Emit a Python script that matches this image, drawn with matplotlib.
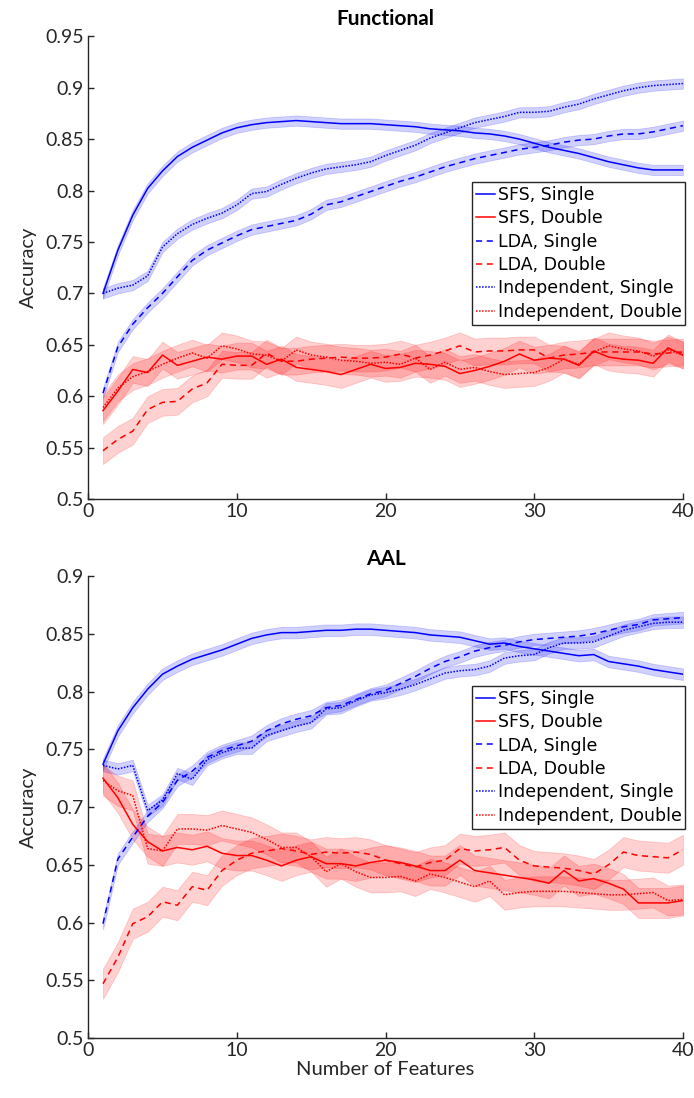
import numpy as np
import matplotlib
matplotlib.use("Agg")
import matplotlib.pyplot as plt

features = np.arange(1, 41)

# Functional parcellation: mean accuracy per number of features
func_sfs_single = [0.700, 0.742, 0.776, 0.802, 0.819, 0.833, 0.842, 0.849, 0.856, 0.861,
                   0.864, 0.866, 0.867, 0.868, 0.867, 0.866, 0.865, 0.865, 0.865, 0.864,
                   0.863, 0.862, 0.860, 0.859, 0.858, 0.856, 0.855, 0.853, 0.850, 0.846,
                   0.842, 0.839, 0.836, 0.832, 0.828, 0.825, 0.822, 0.820, 0.820, 0.820]
func_sfs_double = [0.586, 0.605, 0.626, 0.623, 0.640, 0.630, 0.634, 0.638, 0.636, 0.639,
                   0.639, 0.631, 0.636, 0.628, 0.626, 0.624, 0.621, 0.626, 0.631, 0.627,
                   0.628, 0.632, 0.631, 0.629, 0.622, 0.625, 0.629, 0.634, 0.641, 0.635,
                   0.637, 0.636, 0.630, 0.644, 0.638, 0.636, 0.635, 0.632, 0.647, 0.640]
func_lda_single = [0.603, 0.648, 0.670, 0.686, 0.700, 0.716, 0.732, 0.742, 0.749, 0.756,
                   0.762, 0.765, 0.768, 0.771, 0.777, 0.786, 0.789, 0.794, 0.799, 0.804,
                   0.809, 0.813, 0.818, 0.823, 0.827, 0.831, 0.834, 0.837, 0.840, 0.842,
                   0.844, 0.847, 0.849, 0.850, 0.853, 0.855, 0.855, 0.857, 0.860, 0.863]
func_lda_double = [0.547, 0.558, 0.566, 0.587, 0.594, 0.595, 0.607, 0.613, 0.631, 0.630,
                   0.630, 0.642, 0.634, 0.634, 0.636, 0.637, 0.638, 0.637, 0.637, 0.638,
                   0.641, 0.637, 0.640, 0.644, 0.649, 0.643, 0.644, 0.644, 0.645, 0.645,
                   0.637, 0.640, 0.641, 0.643, 0.643, 0.643, 0.643, 0.641, 0.642, 0.643]
func_ind_single = [0.700, 0.705, 0.708, 0.717, 0.745, 0.758, 0.767, 0.773, 0.778, 0.786,
                   0.797, 0.799, 0.806, 0.812, 0.817, 0.821, 0.823, 0.825, 0.828, 0.834,
                   0.839, 0.844, 0.851, 0.856, 0.861, 0.866, 0.869, 0.872, 0.876, 0.876,
                   0.877, 0.881, 0.884, 0.889, 0.893, 0.897, 0.900, 0.902, 0.903, 0.904]
func_ind_double = [0.589, 0.608, 0.619, 0.624, 0.631, 0.637, 0.642, 0.637, 0.649, 0.646,
                   0.641, 0.640, 0.634, 0.645, 0.640, 0.638, 0.635, 0.634, 0.632, 0.633,
                   0.631, 0.637, 0.626, 0.633, 0.626, 0.628, 0.624, 0.621, 0.622, 0.623,
                   0.628, 0.636, 0.631, 0.643, 0.649, 0.646, 0.644, 0.639, 0.645, 0.640]

# AAL atlas
aal_sfs_single = [0.737, 0.766, 0.786, 0.802, 0.815, 0.822, 0.828, 0.832, 0.836, 0.841,
                  0.846, 0.849, 0.851, 0.851, 0.852, 0.853, 0.853, 0.854, 0.854, 0.853,
                  0.852, 0.851, 0.849, 0.848, 0.847, 0.844, 0.841, 0.842, 0.839, 0.837,
                  0.835, 0.833, 0.831, 0.832, 0.826, 0.824, 0.822, 0.819, 0.817, 0.815]
aal_sfs_double = [0.725, 0.708, 0.685, 0.670, 0.662, 0.665, 0.663, 0.666, 0.660, 0.658,
                  0.658, 0.654, 0.649, 0.654, 0.657, 0.651, 0.651, 0.649, 0.652, 0.654,
                  0.652, 0.649, 0.645, 0.645, 0.654, 0.645, 0.643, 0.641, 0.639, 0.637,
                  0.634, 0.645, 0.636, 0.638, 0.634, 0.629, 0.617, 0.617, 0.617, 0.619]
aal_lda_single = [0.599, 0.655, 0.674, 0.692, 0.704, 0.723, 0.731, 0.743, 0.749, 0.753,
                  0.757, 0.766, 0.772, 0.776, 0.779, 0.786, 0.788, 0.793, 0.798, 0.801,
                  0.807, 0.813, 0.820, 0.826, 0.830, 0.835, 0.838, 0.840, 0.843, 0.845,
                  0.846, 0.847, 0.848, 0.850, 0.853, 0.856, 0.858, 0.862, 0.863, 0.864]
aal_lda_double = [0.547, 0.570, 0.599, 0.605, 0.618, 0.615, 0.631, 0.628, 0.645, 0.654,
                  0.660, 0.662, 0.664, 0.662, 0.659, 0.661, 0.660, 0.661, 0.659, 0.654,
                  0.651, 0.648, 0.652, 0.654, 0.664, 0.662, 0.663, 0.665, 0.654, 0.649,
                  0.648, 0.647, 0.645, 0.642, 0.650, 0.661, 0.658, 0.657, 0.656, 0.663]
aal_ind_single = [0.736, 0.733, 0.736, 0.697, 0.706, 0.729, 0.724, 0.741, 0.747, 0.751,
                  0.751, 0.762, 0.766, 0.770, 0.773, 0.785, 0.786, 0.792, 0.797, 0.799,
                  0.802, 0.806, 0.811, 0.816, 0.818, 0.819, 0.822, 0.829, 0.831, 0.832,
                  0.838, 0.842, 0.842, 0.843, 0.848, 0.853, 0.856, 0.859, 0.860, 0.860]
aal_ind_double = [0.723, 0.714, 0.710, 0.664, 0.662, 0.681, 0.681, 0.680, 0.684, 0.681,
                  0.678, 0.672, 0.665, 0.665, 0.657, 0.644, 0.651, 0.644, 0.639, 0.639,
                  0.640, 0.636, 0.642, 0.639, 0.635, 0.631, 0.636, 0.624, 0.626, 0.627,
                  0.627, 0.627, 0.626, 0.625, 0.624, 0.624, 0.625, 0.626, 0.619, 0.620]

# half-width of the shaded error band (SEM) for each method
sem_single = 0.005
sem_double = 0.013

labels = ["SFS, Single", "SFS, Double", "LDA, Single", "LDA, Double",
          "Independent, Single", "Independent, Double"]

BLUE = (0, 0, 1)
RED = (1, 0, 0)
styles = [(BLUE, "-", sem_single), (RED, "-", sem_double),
          (BLUE, (0, (4, 3)), sem_single), (RED, (0, (4, 3)), sem_double),
          (BLUE, (0, (1, 1)), sem_single), (RED, (0, (1, 1)), sem_double)]

AX_FONT = ["Lato", "DejaVu Sans"]
plt.rcParams["font.family"] = ["DejaVu Sans"]

fig = plt.figure(figsize=(6.94, 10.98), dpi=100)
ax_top = fig.add_axes([0.127, 0.5455, 0.857, 0.4215])
ax_bot = fig.add_axes([0.127, 0.0546, 0.857, 0.4208])


def draw_panel(ax, series, title, ylim, yticks, legend_top):
    for vals, (col, ls, sem), lab in zip(series, styles, labels):
        vals = np.asarray(vals)
        ax.fill_between(features, vals - sem, vals + sem, color=col, alpha=0.18,
                        linewidth=0.6, zorder=1)
    for vals, (col, ls, sem), lab in zip(series, styles, labels):
        ax.plot(features, vals, color=col, linestyle=ls, linewidth=1.1, label=lab, zorder=3)

    ax.set_xlim(0, 40)
    ax.set_ylim(*ylim)
    ax.set_xticks([0, 10, 20, 30, 40])
    ax.set_yticks(yticks)
    ax.set_yticklabels([f"{t:g}" for t in yticks])
    ax.spines["top"].set_visible(False)
    ax.spines["right"].set_visible(False)
    for s in ("left", "bottom"):
        ax.spines[s].set_linewidth(1.0)
        ax.spines[s].set_color("#262626")
    ax.tick_params(direction="in", length=4, width=1.0, color="#262626",
                   labelsize=14, labelcolor="#262626", pad=3)
    for t in ax.get_xticklabels() + ax.get_yticklabels():
        t.set_family(AX_FONT)
    ax.set_ylabel("Accuracy", fontsize=14.5, family=AX_FONT, color="#262626", labelpad=6)
    ax.set_title(title, fontsize=15, fontweight="bold", family=AX_FONT, pad=8)

    leg = ax.legend(loc="upper right", bbox_to_anchor=(1.004, legend_top), borderaxespad=0,
                    fontsize=12.5, handlelength=1.15, handletextpad=0.12, labelspacing=0.31,
                    borderpad=0.22, fancybox=False, framealpha=1, edgecolor="#262626")
    leg.get_frame().set_linewidth(1.0)


draw_panel(ax_top, [func_sfs_single, func_sfs_double, func_lda_single, func_lda_double,
                    func_ind_single, func_ind_double],
           "Functional", (0.5, 0.95), [0.5, 0.55, 0.6, 0.65, 0.7, 0.75, 0.8, 0.85, 0.9, 0.95],
           0.685)
draw_panel(ax_bot, [aal_sfs_single, aal_sfs_double, aal_lda_single, aal_lda_double,
                    aal_ind_single, aal_ind_double],
           "AAL", (0.5, 0.9), [0.5, 0.55, 0.6, 0.65, 0.7, 0.75, 0.8, 0.85, 0.9],
           0.762)
ax_bot.set_xlabel("Number of Features", fontsize=14.5, family=AX_FONT, color="#262626",
                  labelpad=1)

fig.savefig("out.png", dpi=100, facecolor="white")
